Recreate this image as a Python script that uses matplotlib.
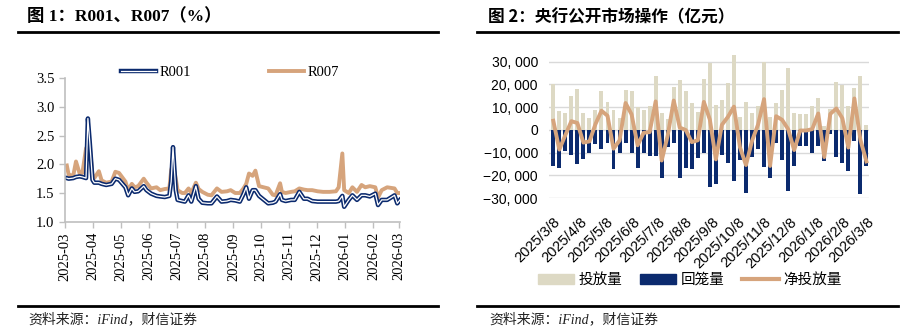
import numpy as np
import pandas as pd
import matplotlib
matplotlib.use("Agg")
import matplotlib.pyplot as plt
import matplotlib.dates as mdates
from matplotlib.lines import Line2D
from matplotlib.patches import Patch
from matplotlib.ticker import FuncFormatter

plt.rcParams['font.family'] = ['Liberation Sans', 'Noto Sans CJK SC']

NAVY = '#0B2A6E'
TAN = '#D6A47C'
BEIGE = '#DDD9C4'
GRID = '#D9D9D9'
AXIS = '#BFBFBF'
SERIF = ['Liberation Serif', 'Noto Sans CJK SC']
CJK = ['Noto Sans CJK SC', 'DejaVu Sans']

# repo rates (%)
rate_dates = [
    '2025-03-03', '2025-03-05', '2025-03-10', '2025-03-13', '2025-03-17', '2025-03-20',
    '2025-03-24', '2025-03-26', '2025-03-28', '2025-03-31', '2025-04-02', '2025-04-07',
    '2025-04-10', '2025-04-15', '2025-04-21', '2025-04-25', '2025-04-29', '2025-05-06',
    '2025-05-09', '2025-05-13', '2025-05-16', '2025-05-20', '2025-05-26', '2025-05-29',
    '2025-06-03', '2025-06-09', '2025-06-13', '2025-06-18', '2025-06-23', '2025-06-25',
    '2025-06-27', '2025-06-30', '2025-07-02', '2025-07-07', '2025-07-10', '2025-07-14',
    '2025-07-17', '2025-07-22', '2025-07-25', '2025-07-29', '2025-08-04', '2025-08-08',
    '2025-08-14', '2025-08-19', '2025-08-25', '2025-08-29', '2025-09-03', '2025-09-08',
    '2025-09-12', '2025-09-15', '2025-09-18', '2025-09-22', '2025-09-25', '2025-09-29',
    '2025-10-09', '2025-10-14', '2025-10-17', '2025-10-22', '2025-10-24', '2025-10-28',
    '2025-11-03', '2025-11-07', '2025-11-12', '2025-11-17', '2025-11-21', '2025-11-26',
    '2025-12-02', '2025-12-08', '2025-12-15', '2025-12-22', '2025-12-25', '2025-12-29',
    '2025-12-31', '2026-01-05', '2026-01-09', '2026-01-14', '2026-01-19', '2026-01-23',
    '2026-01-28', '2026-02-03', '2026-02-06', '2026-02-10', '2026-02-16', '2026-02-24',
    '2026-02-27', '2026-03-02',
]
r001 = [
    1.76, 1.75, 1.76, 1.78, 1.79, 1.78,
    1.76, 2.80, 2.40, 1.73, 1.68, 1.68,
    1.66, 1.64, 1.66, 1.75, 1.73, 1.60,
    1.46, 1.58, 1.52, 1.53, 1.62, 1.55,
    1.49, 1.45, 1.44, 1.43, 1.45, 1.70,
    2.30, 1.55, 1.38, 1.36, 1.35, 1.46,
    1.35, 1.62, 1.40, 1.33, 1.32, 1.32,
    1.44, 1.35, 1.36, 1.38, 1.37, 1.35,
    1.48, 1.60, 1.40, 1.55, 1.55, 1.45,
    1.32, 1.33, 1.35, 1.48, 1.38, 1.36,
    1.38, 1.38, 1.52, 1.40, 1.40, 1.36,
    1.35, 1.35, 1.35, 1.35, 1.36, 1.45,
    1.26, 1.38, 1.46, 1.38, 1.46, 1.46,
    1.44, 1.49, 1.29, 1.38, 1.38, 1.46,
    1.32, 1.38,
]
r007 = [
    1.98, 1.82, 1.80, 2.05, 1.84, 1.85,
    2.28, 2.32, 2.30, 1.82, 1.76, 1.88,
    1.72, 1.68, 1.70, 1.87, 1.85, 1.70,
    1.55, 1.66, 1.60, 1.62, 1.75, 1.68,
    1.58, 1.60, 1.55, 1.57, 1.58, 1.90,
    2.01, 1.75, 1.55, 1.50, 1.50, 1.58,
    1.50, 1.68, 1.57, 1.52, 1.47, 1.46,
    1.58, 1.52, 1.53, 1.55, 1.50, 1.50,
    1.58, 1.66, 1.84, 1.80, 1.89, 1.62,
    1.58, 1.47, 1.46, 1.67, 1.52, 1.50,
    1.52, 1.53, 1.58, 1.56, 1.55, 1.55,
    1.53, 1.52, 1.52, 1.53, 1.60, 2.19,
    1.55, 1.50, 1.60, 1.52, 1.64, 1.60,
    1.62, 1.60, 1.42, 1.55, 1.60, 1.58,
    1.50, 1.50,
]

# open market operations (100m yuan), one bar per week
first_week = '2025-03-08'
inject = [
    20000, 8300, 7200, 14800, 18000, 7200, 5000, 8800, 17000, 12100,
    8800, 5400, 17600, 16900, 10000, 8800, 10300, 23800, 7500, 4900,
    18700, 22000, 16900, 11800, 7800, 22500, 29500, 11000, 13200, 20400,
    32900, 5500, 12200, 7200, 10700, 30000, 5500, 11600, 17600, 27300,
    7200, 7000, 7000, 10500, 14200, 1800, 9000, 21200, 19600, 10500,
    18500, 23700, 2200,
]
withdraw = [
    -16000, -17000, -9500, -11000, -15000, -12800, -10100, -6300, -8600, -5900,
    -17100, -10100, -5800, -10100, -16800, -10100, -11300, -11300, -21000, -7400,
    -5800, -21000, -17000, -17200, -12400, -10200, -25000, -24000, -11000, -14700,
    -22700, -13200, -27700, -12100, -8400, -16500, -21400, -5600, -13200, -27000,
    -16100, -7300, -7300, -10200, -7000, -13800, -2000, -11800, -14500, -18300,
    -4700, -28100, -16100,
]
net = [
    4000, -8700, -2300, 3800, 3000, -5600, -5100, 2500, 8400, 6200,
    -8300, -4700, 11800, 6800, -6800, -1300, -1000, 12500, -13500, -2500,
    12900, 1000, -100, -5400, -4600, 12300, 4500, -13000, 2200, 5700,
    10200, -7700, -15500, -4900, 2300, 13500, -15900, 6000, 4400, 300,
    -8900, -300, -300, 300, 7200, -12000, 7000, 9400, 5100, -7800,
    13800, -4400, -13900,
]

W, H = 910, 334


def box(x0, y0, x1, y1):
    return [x0 / W, 1 - y1 / H, (x1 - x0) / W, (y1 - y0) / H]


fig = plt.figure(figsize=(W / 100, H / 100), dpi=100)

# headers, rules and source lines
for x0, x1, tx, title, fam, fs in [(18, 438, 27, '图 1：R001、R007（%）', SERIF, 12.5),
                                    (477, 898, 488, '图 2：央行公开市场操作（亿元）', CJK, 12)]:
    fig.text(tx / W, 1 - 17 / H, title, fontsize=fs, fontweight='bold',
             family=fam, va='center', ha='left')
    fig.add_artist(Line2D([x0 / W, x1 / W], [1 - 31.7 / H] * 2, color='black', lw=2))
    fig.add_artist(Line2D([x0 / W, x1 / W], [1 - 306 / H] * 2, color='black', lw=2))
    fig.text((tx + 1) / W, 1 - 319 / H, '资料来源：iFind，财信证券', fontsize=10,
             style='italic', family=SERIF, va='center', ha='left', color='#222222')

# left: R001 / R007
ax1 = fig.add_axes(box(65, 78.3, 400, 221.7))
d = pd.to_datetime(rate_dates)
ax1.plot(d, r007, color=TAN, lw=2.8, solid_joinstyle='round')
l1 = ax1.plot(d, r001, color=NAVY, lw=3.2, solid_joinstyle='round')[0]
l1w = ax1.plot(d, r001, color='white', lw=0.9, solid_joinstyle='round')[0]
l2 = Line2D([], [], color=TAN, lw=2.8)

ax1.set_ylim(1.0, 3.5)
ax1.set_yticks(np.arange(1.0, 3.51, 0.5))
ax1.yaxis.set_major_formatter(FuncFormatter(lambda v, p: f'{v:.1f}'))
ax1.set_xlim(pd.Timestamp('2025-03-01'), pd.Timestamp('2026-03-02'))
ax1.set_xticks(pd.date_range('2025-03-01', '2026-03-01', freq='MS'))
ax1.xaxis.set_major_formatter(mdates.DateFormatter('%Y-%m'))
for s in ['top', 'right']:
    ax1.spines[s].set_visible(False)
for s in ['left', 'bottom']:
    ax1.spines[s].set_color(AXIS)
    ax1.spines[s].set_linewidth(1.2)
ax1.tick_params(axis='both', colors=AXIS, length=4, width=1, labelcolor='black',
                labelsize=10.5)
ax1.tick_params(axis='x', labelrotation=90)
for lab in ax1.get_xticklabels() + ax1.get_yticklabels():
    lab.set_family(SERIF)
ax1.patch.set_alpha(0)

fig.legend([(l1, l1w), l2], ['R001', 'R007'], loc='center', ncol=2,
           bbox_to_anchor=(230 / W, 1 - 72 / H), frameon=False,
           prop={'family': SERIF, 'size': 10.5}, handlelength=2.4,
           handletextpad=0.3, columnspacing=5.3)

# right: open market operations
ax2 = fig.add_axes(box(549, 50.3, 869, 198))
weeks = pd.date_range(first_week, periods=len(inject), freq='7D')
ax2.bar(weeks, inject, width=4.6, color=BEIGE, zorder=2)
ax2.bar(weeks, withdraw, width=4.6, color=NAVY, zorder=2)
ax2.plot(weeks, net, color=TAN, lw=2.8, solid_joinstyle='round', zorder=3)

ax2.set_ylim(-30000, 35000)
ax2.set_yticks(range(-30000, 30001, 10000))
ax2.yaxis.set_major_formatter(
    FuncFormatter(lambda v, p: f'{v:,.0f}'.replace(',', ', ').replace('-', '\u2212')))
ax2.grid(axis='y', color=GRID, lw=1)
ax2.set_axisbelow(True)
ax2.set_xlim(pd.Timestamp('2025-03-03'), pd.Timestamp('2026-03-10'))
month_marks = pd.date_range(first_week, '2026-03-08', freq=pd.DateOffset(months=1))
ax2.set_xticks(month_marks)
ax2.set_xticklabels([f'{t.year}/{t.month}/{t.day}' for t in month_marks],
                    rotation=45, ha='right', rotation_mode='anchor')
for s in ax2.spines.values():
    s.set_visible(False)
ax2.tick_params(axis='y', length=0, labelsize=10, colors='black', pad=8)
ax2.tick_params(axis='x', length=0, labelsize=10.5, colors='black', pad=12)
ax2.patch.set_alpha(0)

fig.legend([Patch(color=BEIGE), Patch(color=NAVY), Line2D([], [], color=TAN, lw=3)],
           ['投放量', '回笼量', '净投放量'], loc='center', ncol=3,
           bbox_to_anchor=(689.5 / W, 1 - 280 / H), frameon=False,
           prop={'family': CJK, 'size': 10.5}, handlelength=2.5,
           handletextpad=0.3, columnspacing=1.2)

fig.savefig('out.png', dpi=100)
